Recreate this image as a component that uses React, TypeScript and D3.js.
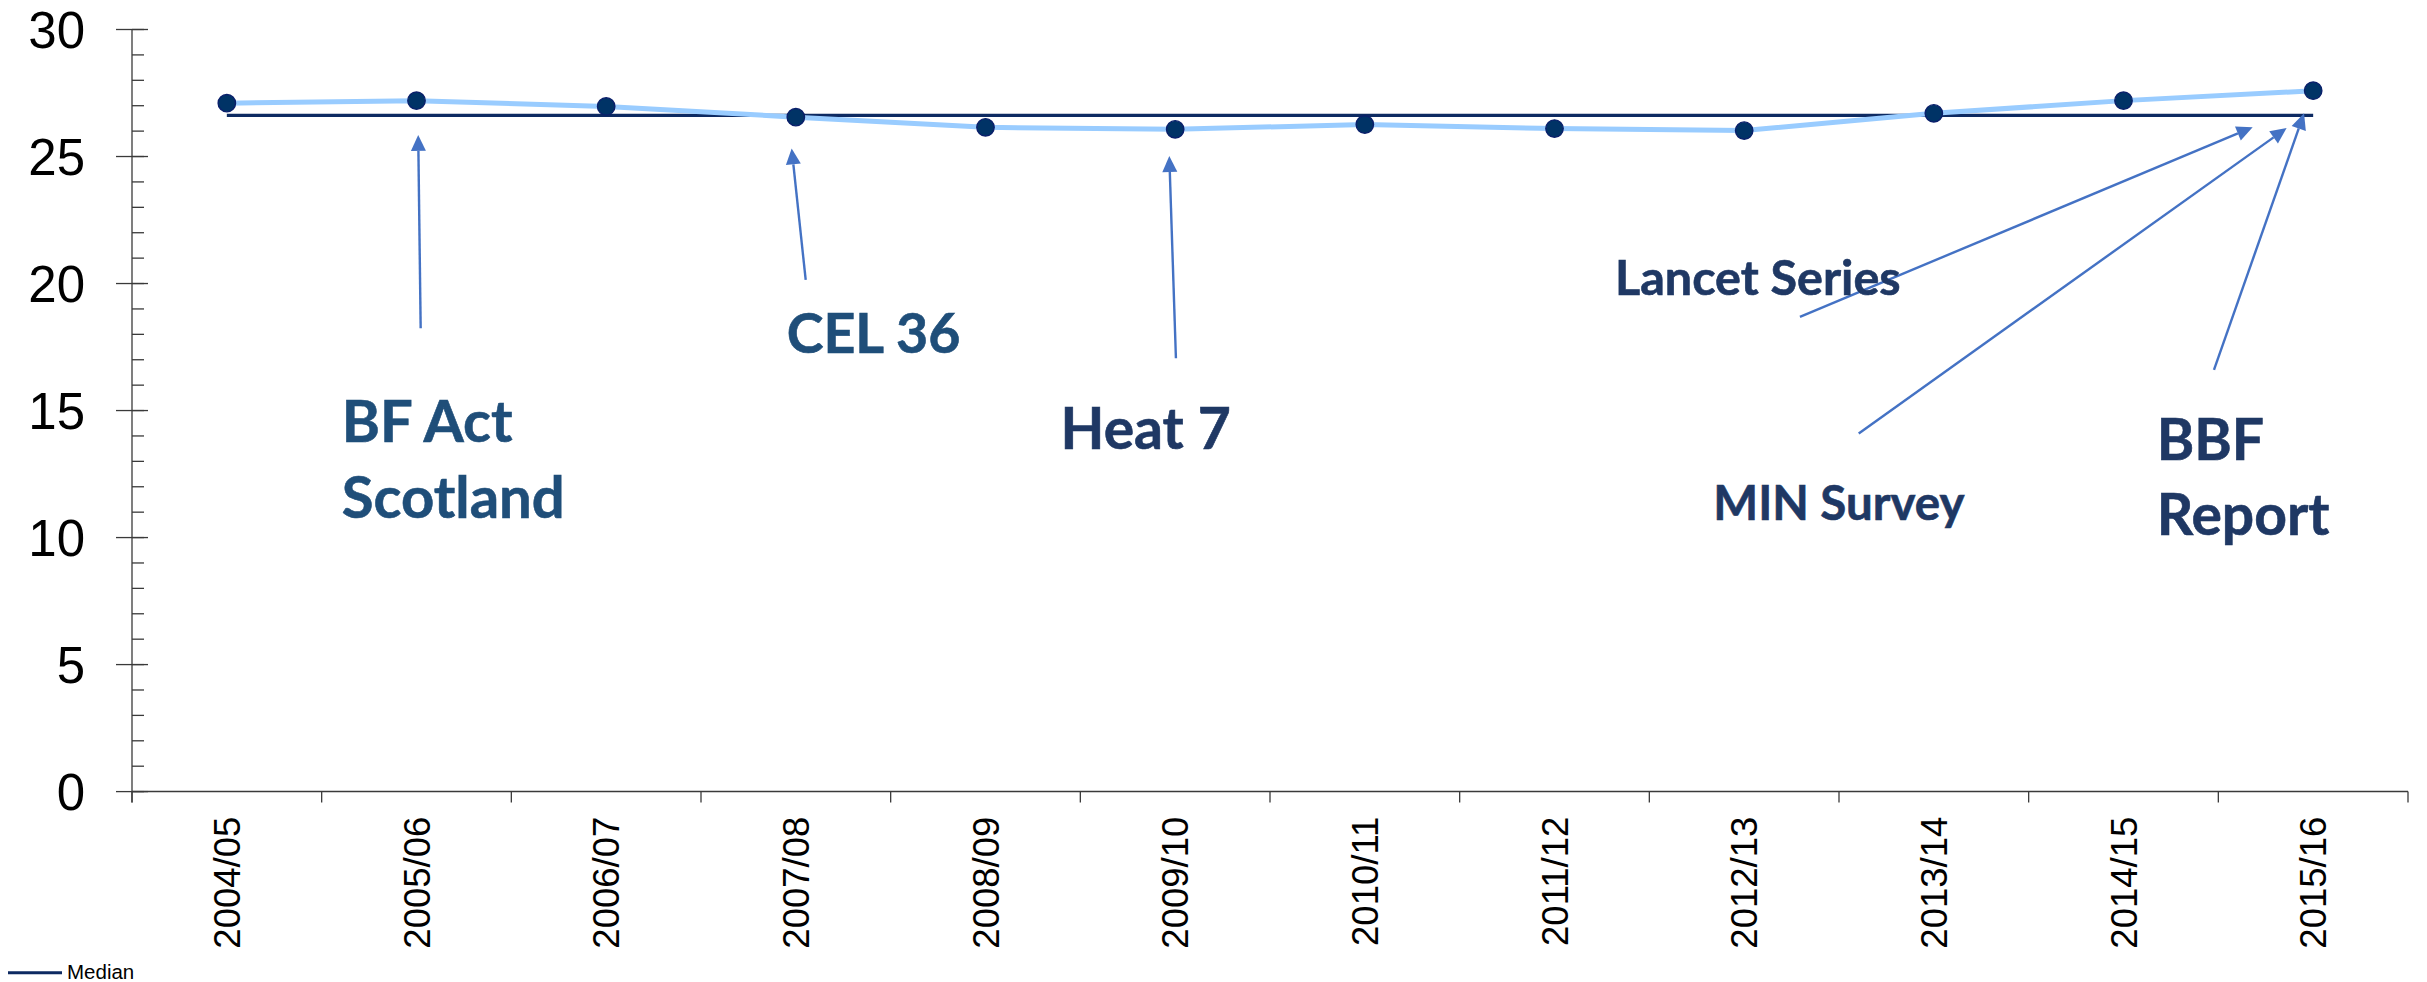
import React from "react";
import * as d3 from "d3";

// ---- Data ----
const categories = [
  "2004/05", "2005/06", "2006/07", "2007/08", "2008/09", "2009/10",
  "2010/11", "2011/12", "2012/13", "2013/14", "2014/15", "2015/16",
];
const rateValues = [27.1, 27.2, 26.97, 26.55, 26.15, 26.07, 26.26, 26.1, 26.02, 26.7, 27.2, 27.59];
const medianValue = 26.62;
const yMajorTicks = [0, 5, 10, 15, 20, 25, 30];
const yMinorTicks = d3.range(0, 31, 1);
const legendLabel = "Median";

// Annotations in data space: x as fractional category index, y as value
const annotationLabels = [
  ["BF Act", "Scotland"],
  ["CEL 36"],
  ["Heat 7"],
  ["Lancet Series"],
  ["MIN Survey"],
  ["BBF", "Report"],
];
const annotationTips = [
  [1.009, 25.85], [2.978, 25.32], [4.969, 25.02], [10.681, 26.15], [10.86, 26.12], [10.952, 26.7],
];
const annotationTails = [
  [1.022, 18.24], [3.052, 20.14], [5.004, 17.06], [8.294, 18.69], [8.604, 14.1], [10.477, 16.6],
];
const annotationTextPos = [
  [0.606, 13.78], [2.952, 17.25], [4.396, 13.47], [7.319, 19.55], [7.837, 10.69], [10.175, 13.05],
];

// ---- Styles ----
const W = 2427;
const H = 982;
const annoStyles = [
  { size: 58, color: "#1F4E79", lh: 76.6 },
  { size: 55.5, color: "#1F4E79", lh: 76 },
  { size: 57, color: "#1F3864", lh: 76 },
  { size: 48.5, color: "#1F3864", lh: 60 },
  { size: 47.5, color: "#1F3864", lh: 60 },
  { size: 57, color: "#1F3864", lh: 75 },
];

export default function App() {
  const x = d3.scaleBand<string>().domain(categories).range([132, 2408]).paddingInner(0).paddingOuter(0);
  const bw = x.bandwidth();
  const cx = (c: string) => (x(c) as number) + bw / 2;
  const y = d3.scaleLinear().domain([0, 30]).range([791.6, 29.5]);
  const xi = d3.scaleLinear().domain([0, categories.length - 1]).range([cx(categories[0]), cx(categories[categories.length - 1])]);

  const line = d3
    .line<number>()
    .x((_, i) => cx(categories[i]))
    .y((d) => y(d));

  const axisColor = "#3a3a3a";
  const arrowColor = "#4472C4";
  const boundaries = categories.map((c) => x(c) as number).concat([x.range()[1]]);

  const arrows = annotationTips.map((tip, i) => {
    const tx = xi(tip[0]);
    const ty = y(tip[1]);
    const sx = xi(annotationTails[i][0]);
    const sy = y(annotationTails[i][1]);
    const dx = tx - sx;
    const dy = ty - sy;
    const len = Math.hypot(dx, dy);
    const ux = dx / len;
    const uy = dy / len;
    const headLen = 16;
    const headHalf = 7.5;
    const bx = tx - ux * headLen;
    const by = ty - uy * headLen;
    const px = -uy;
    const py = ux;
    const head = `${tx},${ty} ${bx + px * headHalf},${by + py * headHalf} ${bx - px * headHalf},${by - py * headHalf}`;
    return { sx, sy, bx, by, head };
  });

  return (
    <svg
      width={W}
      height={H}
      style={{ position: "absolute", left: 0, top: 0, display: "block", background: "#fff" }}
    >
      {/* Y axis */}
      <line x1={132} x2={132} y1={y(30)} y2={y(0) + 11} stroke={axisColor} strokeWidth={1.3} />
      {yMinorTicks.map((t) => (
        <line key={"mn" + t} x1={132} x2={144} y1={y(t)} y2={y(t)} stroke={axisColor} strokeWidth={1.3} />
      ))}
      {yMajorTicks.map((t) => (
        <g key={"mj" + t}>
          <line x1={116} x2={148} y1={y(t)} y2={y(t)} stroke={axisColor} strokeWidth={1.3} />
          <text
            x={85}
            y={y(t)}
            dy="0.36em"
            textAnchor="end"
            fontFamily="'Liberation Sans', Arial, sans-serif"
            fontSize={51}
            fill="#000"
          >
            {t}
          </text>
        </g>
      ))}

      {/* X axis */}
      <line x1={132} x2={x.range()[1]} y1={y(0)} y2={y(0)} stroke={axisColor} strokeWidth={1.5} />
      {boundaries.map((b, i) => (
        <line key={"xt" + i} x1={b} x2={b} y1={y(0)} y2={y(0) + 11} stroke={axisColor} strokeWidth={1.3} />
      ))}
      {categories.map((c) => (
        <text
          key={"xl" + c}
          transform={`translate(${cx(c)},816.7) rotate(-90)`}
          dy="0.36em"
          textAnchor="end"
          fontFamily="'Liberation Sans', Arial, sans-serif"
          fontSize={36.5}
          fill="#000"
        >
          {c}
        </text>
      ))}

      {/* Median line */}
      <line
        x1={cx(categories[0])}
        x2={cx(categories[categories.length - 1])}
        y1={y(medianValue)}
        y2={y(medianValue)}
        stroke="#0d2a62"
        strokeWidth={3.4}
      />

      {/* Data line */}
      <path d={line(rateValues) || ""} fill="none" stroke="#99CCFF" strokeWidth={5} strokeLinejoin="round" />
      {rateValues.map((v, i) => (
        <circle key={"pt" + i} cx={cx(categories[i])} cy={y(v)} r={8.7} fill="#003366" stroke="#0a1f6b" strokeWidth={1.4} />
      ))}

      {/* Annotations */}
      {arrows.map((a, i) => (
        <g key={"ar" + i}>
          <line x1={a.sx} y1={a.sy} x2={a.bx} y2={a.by} stroke={arrowColor} strokeWidth={2.4} />
          <polygon points={a.head} fill={arrowColor} />
        </g>
      ))}
      {annotationLabels.map((lines, i) => (
        <text
          key={"an" + i}
          x={xi(annotationTextPos[i][0])}
          y={y(annotationTextPos[i][1])}
          fontFamily="Lato, 'Open Sans', sans-serif"
          fontWeight={700}
          fontSize={annoStyles[i].size}
          fill={annoStyles[i].color}
          stroke={annoStyles[i].color}
          strokeWidth={0.6}
        >
          {lines.map((l, j) => (
            <tspan key={j} x={xi(annotationTextPos[i][0])} dy={j === 0 ? 0 : annoStyles[i].lh}>
              {l}
            </tspan>
          ))}
        </text>
      ))}

      {/* Legend */}
      <line x1={8} x2={62} y1={972.7} y2={972.7} stroke="#0d2a62" strokeWidth={3} />
      <text x={67} y={979} fontFamily="'Liberation Sans', Arial, sans-serif" fontSize={20.5} fill="#000">
        {legendLabel}
      </text>
    </svg>
  );
}
